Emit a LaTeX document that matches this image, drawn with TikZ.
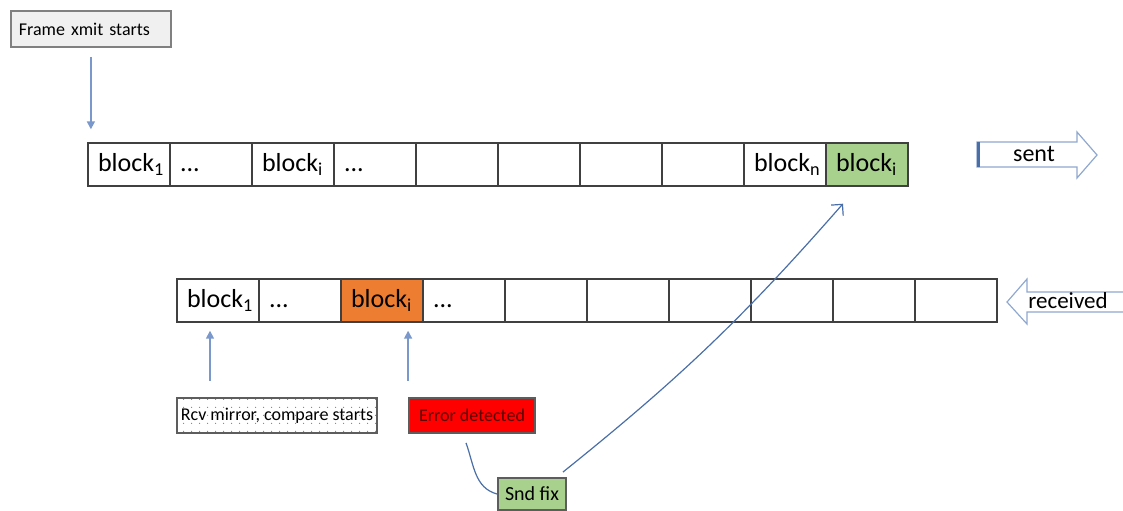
\documentclass[tikz,border=0pt]{standalone}
\usepackage{fontspec}
\setmainfont{Carlito}
\usetikzlibrary{arrows.meta,patterns.meta}

\definecolor{cellline}{HTML}{404040}
\definecolor{fixgreen}{HTML}{A9D18E}
\definecolor{errorange}{HTML}{ED7D31}
\definecolor{linkblue}{HTML}{4A6FA8}
\definecolor{tipblue}{HTML}{7A98CC}
\definecolor{outlineblue}{HTML}{8FA8D0}
\definecolor{boxgray}{HTML}{F0F0F0}

\newcommand{\skipd}{...}

\tikzset{
  cell/.style={draw=cellline, line width=0.7pt, minimum height=21.5pt,
    text width=31pt, text height=9.5pt, text depth=2.5pt, inner xsep=5pt,
    inner ysep=0pt, align=left, font=\fontsize{13}{15}\selectfont},
  note/.style={draw=cellline!85, line width=0.9pt, minimum height=17.5pt,
    inner xsep=2pt, inner ysep=0pt, font=\fontsize{9}{11}\selectfont},
  link/.style={draw=linkblue, line width=0.6pt},
  pointer/.style={draw=tipblue, line width=0.8pt, -{Triangle[length=4pt,width=4pt]}},
}

\begin{document}
\begin{tikzpicture}[x=0.5pt,y=0.5pt]
  \useasboundingbox (0,0) rectangle (1123,-510);

  % sent frame
  \foreach \lbl/\tone [count=\k] in {block\textsubscript{1}/white, \skipd/white,
      block\textsubscript{i}/white, \skipd/white, /white, /white, /white, /white,
      block\textsubscript{n}/white, block\textsubscript{i}/fixgreen}
    \node[cell, fill=\tone] (t\k) at ({88+82*(\k-0.5)},-164.5) {\lbl};

  % received frame
  \foreach \lbl/\tone [count=\k] in {block\textsubscript{1}/white, \skipd/white,
      block\textsubscript{i}/errorange, \skipd/white, /white, /white, /white,
      /white, /white, /white}
    \node[cell, fill=\tone] (r\k) at ({177+82*(\k-0.5)},-300.5) {\lbl};

  \node[note, fill=boxgray, draw=gray, minimum height=18pt, text width=72pt,
    inner xsep=4pt, align=left, anchor=north west] (xmit) at (10,-10) {Frame xmit starts};
  \draw[pointer, shorten <=4.5pt, shorten >=6.5pt] (xmit.south) -- (xmit.south |- t1.north);

  \node[note, minimum width=99pt, preaction={fill=white},
    pattern={Dots[distance=4pt,radius=0.35pt]}, pattern color=gray] (rcv) at (277,-415.5)
    {Rcv mirror, compare starts};
  \node[note, fill=red, minimum width=63pt, text=red!35!black] (err) at (472,-415.5) {Error detected};
  \node[note, fill=fixgreen, minimum width=34pt, minimum height=16pt,
    font=\fontsize{10}{12}\selectfont] (snd) at (532,-494) {Snd fix};

  \coordinate (rcvtip) at ([xshift=-4pt]r1.south);
  \draw[pointer, shorten <=8pt, shorten >=4pt] (rcvtip |- rcv.north) -- (rcvtip);
  \draw[pointer, shorten <=8pt, shorten >=4pt] (err.north west) -- (err.north west |- r3.south);

  \draw[link] ([xshift=-3pt,yshift=-4.5pt]err.south) to[out=-70,in=165] (snd.west);
  \coordinate (fixtip) at ([xshift=-12pt,yshift=-8.5pt]t10.south);
  \draw[link, -{Straight Barb[length=4pt,width=8pt]}]
    ([xshift=-2pt,yshift=2.5pt]snd.north east) to[bend right=5] (fixtip);

  % block arrows
  \draw[outlineblue, line width=0.6pt, fill=white] (977,-142) -- (1077,-142) -- (1077,-132)
    -- (1097,-155) -- (1077,-178) -- (1077,-167) -- (977,-167) -- cycle;
  \draw[linkblue, line width=1.5pt] (978.5,-142) -- (978.5,-167);
  \node[font=\fontsize{12}{14}\selectfont, inner sep=0pt] (sent) at (1034,-154) {sent};

  \draw[outlineblue, line width=0.6pt] (1123,-292) -- (1027,-292) -- (1027,-279)
    -- (1007,-302) -- (1027,-324) -- (1027,-312) -- (1123,-312);
  \node[font=\fontsize{11.5}{13}\selectfont, inner sep=0pt] (received) at (1068,-301) {received};
\end{tikzpicture}
\end{document}
